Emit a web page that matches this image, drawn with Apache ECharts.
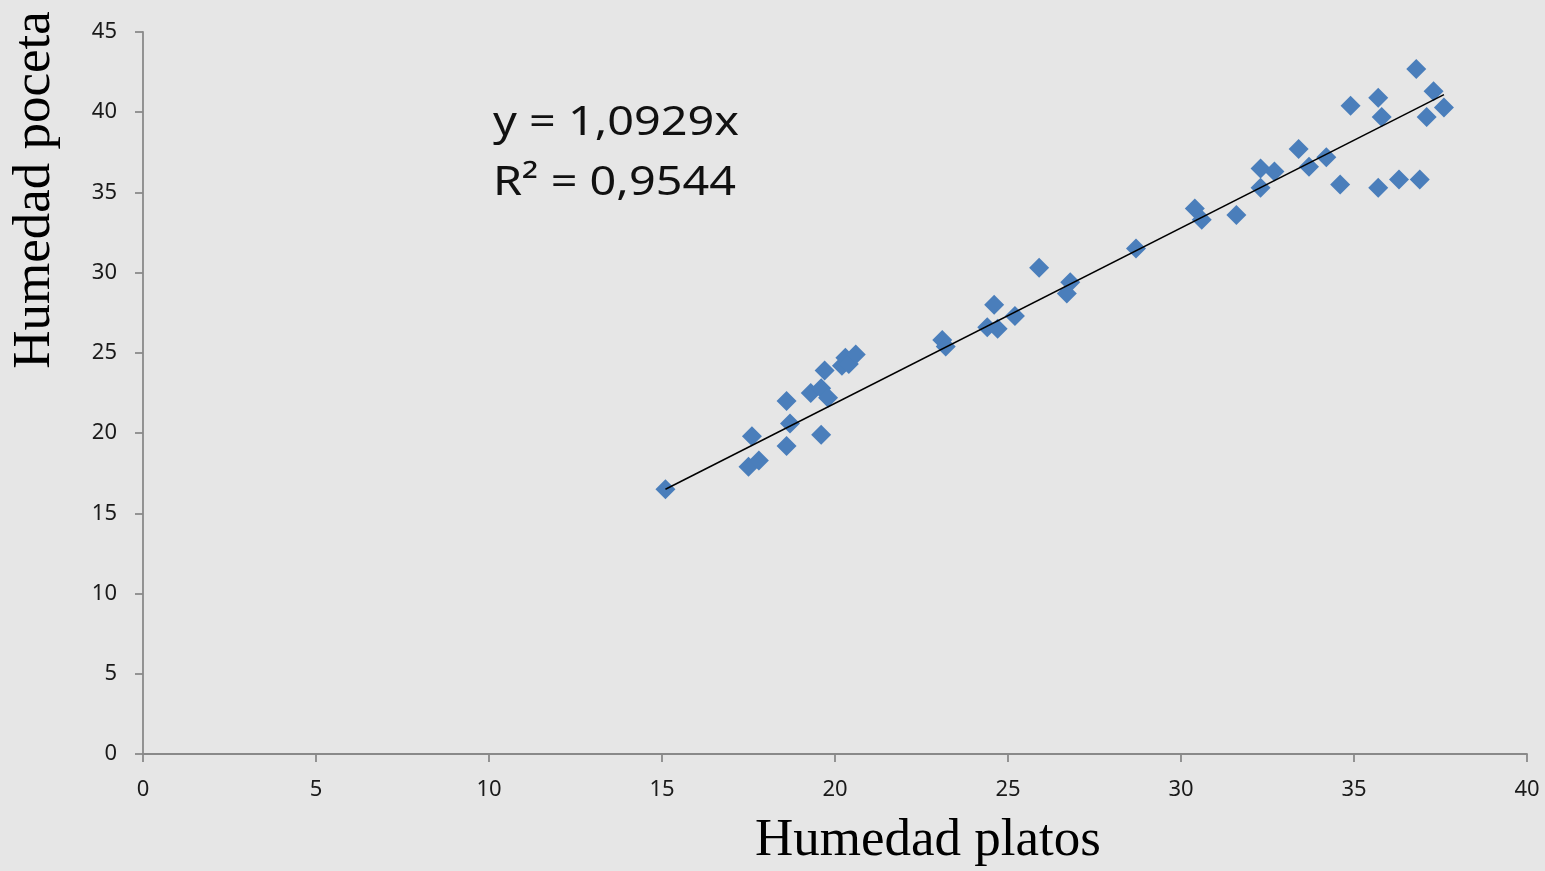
<!DOCTYPE html>
<html>
<head>
<meta charset="utf-8">
<script src="https://cdn.jsdelivr.net/npm/echarts@6/dist/echarts.min.js"></script>
<style>
html,body{margin:0;padding:0;background:#e6e6e6;}
#chart{width:1545px;height:871px;}
</style>
</head>
<body>
<div id="chart"></div>
<script>
const humedadPlatos = [15.1,17.6,17.5,17.8,18.6,18.7,18.6,19.6,19.3,19.7,19.6,19.8,20.2,20.3,20.4,20.6,23.1,23.2,24.6,24.4,24.7,25.2,25.9,26.8,26.7,28.7,30.4,30.6,31.6,32.3,32.3,32.7,33.4,33.7,34.2,34.6,34.9,35.7,35.8,36.8,37.3,37.1,37.6,35.7,36.3,36.9];
const humedadPoceta = [16.5,19.8,17.9,18.3,22.0,20.6,19.2,19.9,22.5,23.9,22.8,22.2,24.2,24.7,24.3,24.9,25.8,25.4,28.0,26.6,26.5,27.3,30.3,29.4,28.7,31.5,34.0,33.3,33.6,36.5,35.3,36.3,37.7,36.6,37.2,35.5,40.4,40.9,39.7,42.7,41.3,39.7,40.3,35.3,35.8,35.8];
const trendX = [15.1, 37.6];
const trendY = [16.5, 41.1];
const xTicks = [0,5,10,15,20,25,30,35,40];
const yTicks = [0,5,10,15,20,25,30,35,40,45];
const equationLines = ['y = 1,0929x', 'R² = 0,9544'];
const xTitle = 'Humedad platos';
const yTitle = 'Humedad poceta';

const chart = echarts.init(document.getElementById('chart'));
const axisCol = '#898989';
const labelStyle = {color:'#1a1a1a', fontSize:22, fontFamily:'Noto Sans'};
chart.setOption({
  backgroundColor:'#e6e6e6',
  animation:false,
  grid:{left:143, right:18, top:32, bottom:117, containLabel:false},
  xAxis:{type:'value', min:xTicks[0], max:xTicks[xTicks.length-1], interval:5,
    axisLine:{show:true, onZero:false, lineStyle:{color:axisCol, width:1.8}},
    axisTick:{show:true, inside:false, length:8, lineStyle:{color:axisCol, width:1.8}},
    axisLabel:Object.assign({margin:25}, labelStyle),
    splitLine:{show:false}},
  yAxis:{type:'value', min:yTicks[0], max:yTicks[yTicks.length-1], interval:5,
    axisLine:{show:true, onZero:false, lineStyle:{color:axisCol, width:1.8}},
    axisTick:{show:true, inside:false, length:8, lineStyle:{color:axisCol, width:1.8}},
    axisLabel:Object.assign({margin:26}, labelStyle),
    splitLine:{show:false}},
  series:[
    {type:'scatter', symbol:'diamond', symbolSize:[20,20],
     itemStyle:{color:'#4a7ebb', opacity:1},
     data:humedadPlatos.map((x,i)=>[x, humedadPoceta[i]]), z:3},
    {type:'line', data:trendX.map((x,i)=>[x, trendY[i]]), symbol:'none',
     lineStyle:{color:'#000', width:1.5}, z:4, silent:true}
  ],
  graphic:[
    {type:'text', x:493, y:124, scaleX:1.17, style:{text:equationLines[0], fill:'#111', font:'40px "Noto Sans"', align:'left', verticalAlign:'middle'}},
    {type:'text', x:493, y:184, scaleX:1.17, style:{text:equationLines[1], fill:'#111', font:'40px "Noto Sans"', align:'left', verticalAlign:'middle'}},
    {type:'text', x:928, y:841, style:{text:xTitle, fill:'#000', font:'53px "Liberation Serif"', align:'center', verticalAlign:'middle'}},
    {type:'text', x:35, y:190, rotation:Math.PI/2, style:{text:yTitle, fill:'#000', font:'53px "Liberation Serif"', align:'center', verticalAlign:'middle'}}
  ]
});
</script>
</body>
</html>
